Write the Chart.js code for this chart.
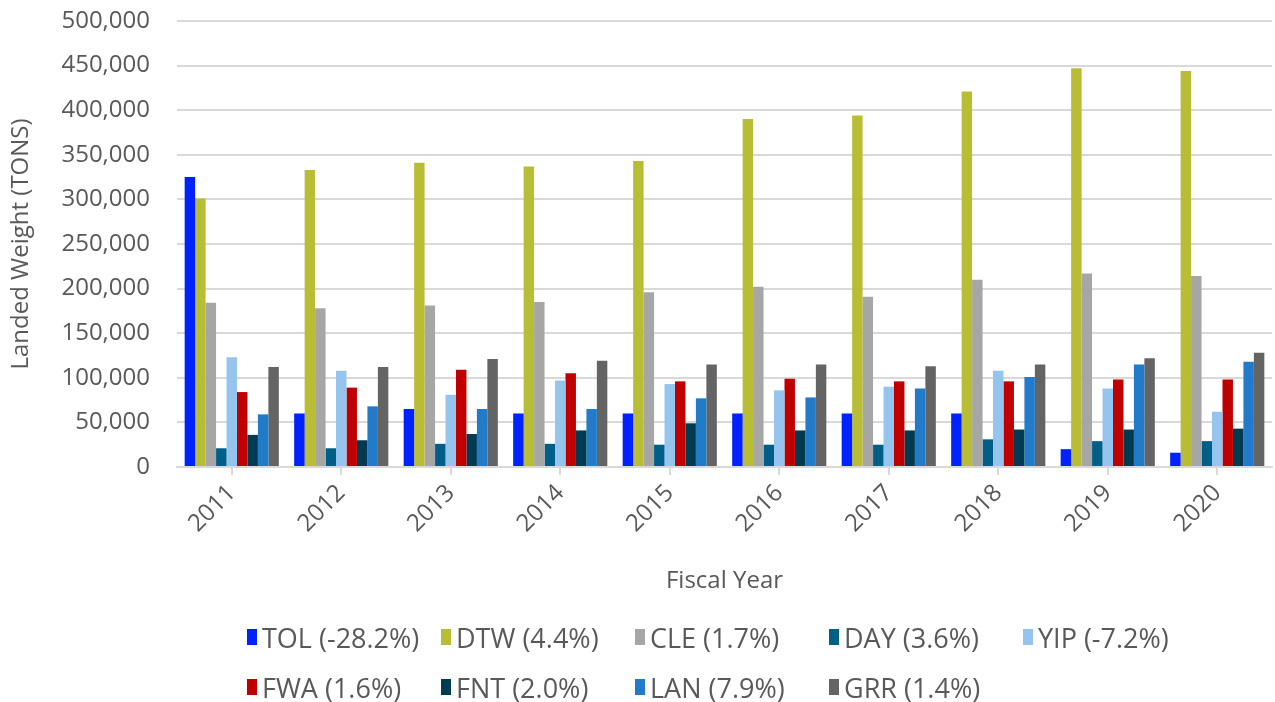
<!DOCTYPE html>
<html>
<head>
<meta charset="utf-8">
<script src="https://cdn.jsdelivr.net/npm/chart.js@4.4.1/dist/chart.umd.min.js"></script>
<style>
  html, body { margin: 0; padding: 0; background: #fff; }
  #wrap { position: relative; width: 1275px; height: 702px; }
  #legend { position: absolute; left: 0; top: 0; width: 1275px; height: 702px; pointer-events: none;
            font-family: "Open Sans", "Noto Sans", sans-serif; font-size: 27px; color: #595959; }
  .item { position: absolute; display: flex; align-items: center; white-space: nowrap; }
  .box { width: 10px; height: 16px; margin-right: 5px; }
</style>
</head>
<body>
<div id="wrap">
  <canvas id="chart" width="1275" height="702"></canvas>
  <div id="legend"></div>
</div>
<script>
// Fiscal years on the x axis
const years = ['2011', '2012', '2013', '2014', '2015', '2016', '2017', '2018', '2019', '2020'];

// Landed weight per airport (tons)
const tol = [325000, 60000, 65000, 60000, 60000, 60000, 60000, 60000, 20000, 16000];
const dtw = [301000, 333000, 341000, 337000, 343000, 390000, 394000, 421000, 447000, 444000];
const cle = [184000, 178000, 181000, 185000, 196000, 202000, 191000, 210000, 217000, 214000];
const day = [21000, 21000, 26000, 26000, 25000, 25000, 25000, 31000, 29000, 29000];
const yip = [123000, 108000, 81000, 97000, 93000, 86000, 90000, 108000, 88000, 62000];
const fwa = [84000, 89000, 109000, 105000, 96000, 99000, 96000, 96000, 98000, 98000];
const fnt = [36000, 30000, 37000, 41000, 49000, 41000, 41000, 42000, 42000, 43000];
const lan = [59000, 68000, 65000, 65000, 77000, 78000, 88000, 101000, 115000, 118000];
const grr = [112000, 112000, 121000, 119000, 115000, 115000, 113000, 115000, 122000, 128000];

// Legend labels with growth rates
const labels = ['TOL (-28.2%)', 'DTW (4.4%)', 'CLE (1.7%)', 'DAY (3.6%)', 'YIP (-7.2%)',
                'FWA (1.6%)', 'FNT (2.0%)', 'LAN (7.9%)', 'GRR (1.4%)'];
const colors = ['#0022FF', '#B9BD35', '#A6A6A6', '#005F87', '#95C5EE',
                '#C00000', '#003B52', '#227BC9', '#646464'];

const series = [tol, dtw, cle, day, yip, fwa, fnt, lan, grr];
const textColor = '#595959';
const font = { family: '"Open Sans", "Noto Sans", sans-serif', size: 24 };

const chart = new Chart(document.getElementById('chart'), {
    type: 'bar',
    data: {
        labels: years,
        datasets: series.map((values, i) => ({
            label: labels[i],
            data: values,
            backgroundColor: colors[i],
            borderWidth: 0,
            barPercentage: 1.0,
            categoryPercentage: 0.86
        }))
    },
    options: {
        responsive: false,
        animation: false,
        layout: { padding: { left: 5, right: 3, top: 21, bottom: 106 } },
        plugins: {
            legend: { display: false },
            tooltip: { enabled: false }
        },
        scales: {
            x: {
                grid: { drawOnChartArea: false, drawTicks: true, tickLength: 8, color: '#D9D9D9', lineWidth: 2, offset: false },
                border: { color: '#D9D9D9', width: 2 },
                ticks: { color: textColor, font: font, maxRotation: 45, minRotation: 45, padding: 4 },
                title: { display: true, text: 'Fiscal Year', color: textColor, font: font, padding: 0 },
                afterFit: function (scale) { scale.height = 129; }
            },
            y: {
                min: 0,
                max: 500000,
                // invisible tick marks keep the gap between labels and plot
                grid: { color: '#D9D9D9', lineWidth: 2, drawTicks: true, tickLength: 23, tickColor: 'rgba(0,0,0,0)' },
                border: { display: false },
                ticks: {
                    stepSize: 50000,
                    color: textColor,
                    font: font,
                    padding: 4,
                    callback: v => v.toLocaleString('en-US')
                },
                title: { display: true, text: 'Landed Weight (TONS)', color: textColor, font: font, padding: 2 },
                afterFit: function (scale) { scale.width = 172; }
            }
        }
    }
});

// Legend laid out as a grid like the original
const legendEl = document.getElementById('legend');
chart.data.datasets.forEach((ds, i) => {
    const row = Math.floor(i / 5);
    const col = i % 5;
    const item = document.createElement('div');
    item.className = 'item';
    item.style.left = (247 + col * 194) + 'px';
    item.style.top = (637 + row * 50 - 16) + 'px';
    item.style.height = '32px';
    item.innerHTML = `<span class="box" style="background:${ds.backgroundColor}"></span><span>${ds.label}</span>`;
    legendEl.appendChild(item);
});
</script>
</body>
</html>
